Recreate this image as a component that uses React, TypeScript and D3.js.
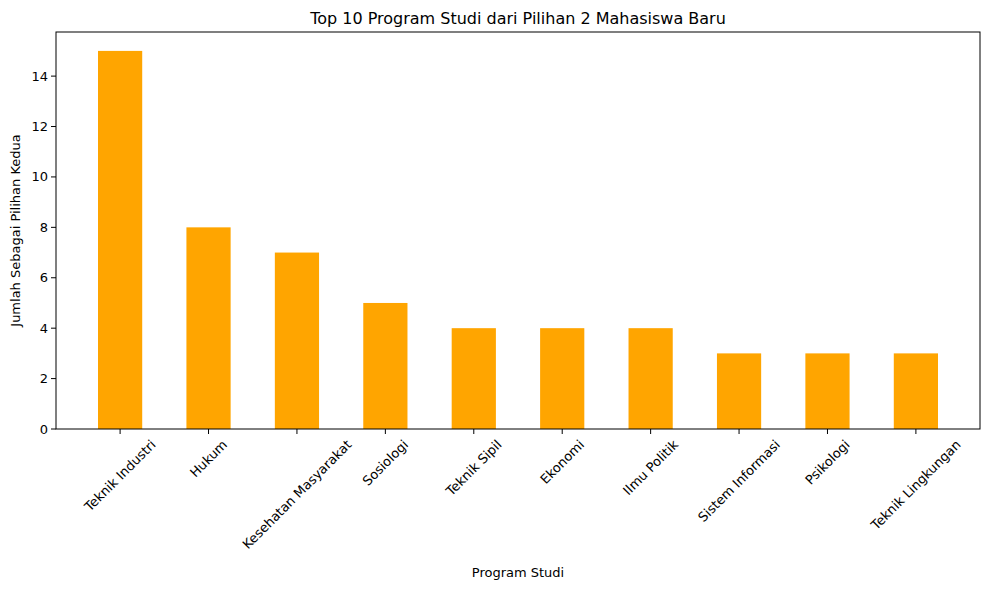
import React, { useRef, useEffect } from "react";
import * as d3 from "d3";

const programs = [
  "Teknik Industri", "Hukum", "Kesehatan Masyarakat", "Sosiologi", "Teknik Sipil",
  "Ekonomi", "Ilmu Politik", "Sistem Informasi", "Psikologi", "Teknik Lingkungan",
];
const counts = [15, 8, 7, 5, 4, 4, 4, 3, 3, 3];
const yTicks = [0, 2, 4, 6, 8, 10, 12, 14];

const W = 989, H = 590;
const m = { left: 56, right: 980, top: 32, bottom: 429 };
const font = "DejaVu Sans, sans-serif";

export default function App() {
  const ref = useRef<SVGSVGElement | null>(null);

  useEffect(() => {
    if (!ref.current) return;
    const svg = d3.select(ref.current);
    svg.selectAll("*").remove();

    const x = d3.scaleLinear().domain([-0.725, 9.725]).range([m.left, m.right]);
    const y = d3.scaleLinear().domain([0, 15.75]).range([m.bottom, m.top]);
    const bw = x(0.25) - x(-0.25);

    svg.append("g").selectAll("rect").data(counts).enter().append("rect")
      .attr("x", (_, i) => x(i) - bw / 2)
      .attr("y", (d) => y(d))
      .attr("width", bw)
      .attr("height", (d) => y(0) - y(d))
      .attr("fill", "#ffa500");

    // frame
    svg.append("rect")
      .attr("x", m.left).attr("y", m.top)
      .attr("width", m.right - m.left).attr("height", m.bottom - m.top)
      .attr("fill", "none").attr("stroke", "#000").attr("stroke-width", 1);

    // y ticks
    const yg = svg.append("g");
    yTicks.forEach((t) => {
      yg.append("line").attr("x1", m.left - 5).attr("x2", m.left)
        .attr("y1", y(t)).attr("y2", y(t)).attr("stroke", "#000");
      yg.append("text").attr("x", m.left - 8).attr("y", y(t))
        .attr("text-anchor", "end").attr("dominant-baseline", "central")
        .attr("font-family", font).attr("font-size", 13).text(t);
    });

    // x ticks with rotated labels
    const xg = svg.append("g");
    programs.forEach((p, i) => {
      const cx = x(i);
      xg.append("line").attr("x1", cx).attr("x2", cx)
        .attr("y1", m.bottom).attr("y2", m.bottom + 5).attr("stroke", "#000");
      const t = xg.append("text").attr("text-anchor", "middle")
        .attr("dominant-baseline", "central")
        .attr("font-family", font).attr("font-size", 13).text(p);
      const w = (t.node() as SVGTextElement).getComputedTextLength();
      const bh = (w + 15) * Math.SQRT1_2;
      t.attr("transform", `translate(${cx},${m.bottom + 8 + bh / 2}) rotate(-45)`);
    });

    svg.append("text").attr("x", (m.left + m.right) / 2).attr("y", 577)
      .attr("text-anchor", "middle").attr("font-family", font).attr("font-size", 13)
      .text("Program Studi");
    svg.append("text").attr("transform", `translate(20,${(m.top + m.bottom) / 2}) rotate(-90)`)
      .attr("text-anchor", "middle").attr("font-family", font).attr("font-size", 13)
      .text("Jumlah Sebagai Pilihan Kedua");
    svg.append("text").attr("x", (m.left + m.right) / 2).attr("y", 24)
      .attr("text-anchor", "middle").attr("font-family", font).attr("font-size", 16)
      .text("Top 10 Program Studi dari Pilihan 2 Mahasiswa Baru");
  }, []);

  return (
    <svg ref={ref} width={W} height={H}
      style={{ position: "absolute", left: 0, top: 0, background: "#fff" }} />
  );
}
